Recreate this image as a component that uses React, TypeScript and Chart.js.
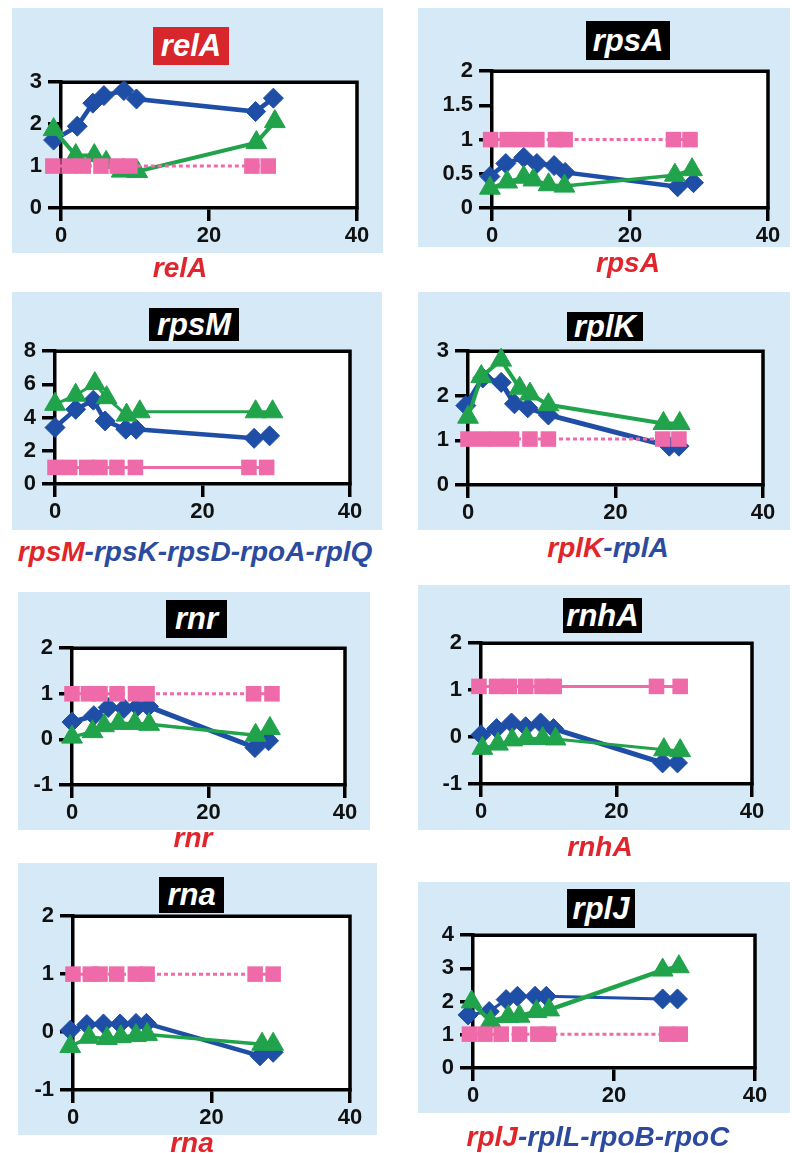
import React, { useEffect, useRef } from "react";
import { Chart, registerables } from "chart.js";

Chart.register(...registerables);

// ---------------- DATA (x = time, y = relative level) ----------------
// relA
const relA_blueX = [-1, 2.2, 4.3, 5.8, 8.5, 10.2, 26.3, 28.7];
const relA_blueY = [1.62, 1.95, 2.5, 2.68, 2.8, 2.6, 2.3, 2.62];
const relA_greenX = [-1, 2, 4.5, 6.1, 8.2, 10.3, 26.4, 28.9];
const relA_greenY = [1.87, 1.25, 1.25, 1.09, 0.88, 0.87, 1.56, 2.06];
const relA_pinkX = [-1.1, 1.1, 3.0, 5.4, 7.6, 9.3, 25.8, 28];
const relA_pinkY = [1, 1, 1, 1, 1, 1, 1, 1];
// rpsA
const rpsA_blueX = [-0.3, 2, 4.6, 6.5, 9, 10.6, 26.9, 29.2];
const rpsA_blueY = [0.46, 0.65, 0.74, 0.65, 0.62, 0.52, 0.31, 0.37];
const rpsA_greenX = [-0.3, 2.2, 4.6, 6, 8.2, 10.5, 26.5, 29];
const rpsA_greenY = [0.29, 0.38, 0.45, 0.41, 0.34, 0.32, 0.48, 0.56];
const rpsA_pinkX = [-0.2, 2.2, 4.3, 6.5, 9.2, 10.6, 26.3, 28.7];
const rpsA_pinkY = [1, 1, 1, 1, 1, 1, 1, 1];
// rpsM
const rpsM_blueX = [0, 2.8, 5.2, 6.8, 9.6, 11, 27, 29.1];
const rpsM_blueY = [3.4, 4.5, 5.05, 3.8, 3.3, 3.3, 2.75, 2.9];
const rpsM_greenX = [0, 2.8, 5.4, 7, 9.7, 11.5, 27.2, 29.5];
const rpsM_greenY = [4.8, 5.35, 6.05, 5.2, 4.15, 4.35, 4.35, 4.35];
const rpsM_pinkX = [0, 2, 4.3, 6.1, 8.4, 10.9, 26.3, 28.7];
const rpsM_pinkY = [1, 1, 1, 1, 1, 1, 1, 1];
// rplK
const rplK_blueX = [-0.3, 2, 4.5, 6.3, 8.1, 10.9, 27.3, 28.6];
const rplK_blueY = [1.78, 2.4, 2.3, 1.82, 1.73, 1.57, 0.87, 0.87];
const rplK_greenX = [0, 1.8, 4.5, 7, 8.4, 10.9, 26.5, 28.7];
const rplK_greenY = [1.52, 2.43, 2.8, 2.17, 2.04, 1.8, 1.38, 1.38];
const rplK_pinkX = [0, 2, 3.9, 5.9, 8.4, 10.9, 26.4, 28.6];
const rplK_pinkY = [1.03, 1.03, 1.03, 1.03, 1.03, 1.03, 1.03, 1.03];
// rnr
const rnr_blueX = [0, 3.2, 5.3, 7.6, 9.6, 11.2, 26.8, 28.8];
const rnr_blueY = [0.38, 0.52, 0.7, 0.68, 0.72, 0.72, -0.18, -0.03];
const rnr_greenX = [0, 3, 4.7, 6.8, 9.2, 11.3, 26.9, 29];
const rnr_greenY = [0.05, 0.17, 0.3, 0.35, 0.35, 0.33, 0.09, 0.24];
const rnr_pinkX = [0, 2.4, 4.1, 6.6, 9.3, 11, 26.6, 29.3];
const rnr_pinkY = [1, 1, 1, 1, 1, 1, 1, 1];
// rnhA
const rnhA_blueX = [0, 2.3, 4.5, 6.6, 8.8, 10.7, 26.8, 29];
const rnhA_blueY = [0.05, 0.18, 0.3, 0.22, 0.3, 0.18, -0.55, -0.55];
const rnhA_greenX = [0.2, 2.5, 4.6, 6.7, 9.1, 11, 27, 29.4];
const rnhA_greenY = [-0.24, -0.15, -0.06, -0.03, -0.03, -0.04, -0.27, -0.29];
const rnhA_pinkX = [-0.3, 2.3, 4.2, 6.6, 9, 10.8, 25.9, 29.4];
const rnhA_pinkY = [1.08, 1.08, 1.08, 1.08, 1.08, 1.08, 1.08, 1.08];
// rna
const rna_blueX = [-0.4, 2, 4.4, 6.8, 9.1, 10.6, 27, 28.9];
const rna_blueY = [0.03, 0.13, 0.14, 0.14, 0.15, 0.15, -0.41, -0.35];
const rna_greenX = [-0.4, 2.3, 4.9, 6.9, 9.1, 10.7, 27.3, 28.9];
const rna_greenY = [-0.25, -0.09, -0.11, -0.08, -0.06, -0.04, -0.21, -0.21];
const rna_pinkX = [0, 2.5, 3.9, 6.3, 9, 10.7, 26.3, 28.9];
const rna_pinkY = [1, 1, 1, 1, 1, 1, 1, 1];
// rplJ
const rplJ_blueX = [-0.7, 2.3, 4.7, 6.3, 8.8, 10.4, 26.9, 29];
const rplJ_blueY = [1.6, 1.7, 2.06, 2.16, 2.16, 2.16, 2.08, 2.08];
const rplJ_greenX = [-0.2, 2.5, 5, 6.6, 9, 10.8, 26.9, 29.2];
const rplJ_greenY = [1.99, 1.4, 1.55, 1.56, 1.7, 1.75, 2.95, 3.05];
const rplJ_pinkX = [-0.5, 1.7, 4, 6.6, 9.2, 10.7, 27.5, 29.4];
const rplJ_pinkY = [1.02, 1.02, 1.02, 1.02, 1.02, 1.02, 1.02, 1.02];

const xTicks = [0, 20, 40];

// ---------------- STYLE ----------------
const BLUE = "#1e4ea6";
const GREEN = "#20a34b";
const PINK = "#ef6aa9";
const BG = "#d5e9f7";
const RED = "#e0262c";
const NAVY = "#2c4b9f";
const FONT = '"Liberation Sans", Arial, Helvetica, sans-serif';

type Seg = [string, string];
type PanelDef = {
  title: string;
  titleBg: string;
  sub: Seg[];
  bg: [number, number, number, number];
  tb: [number, number, number, number];
  frame: [number, number, number, number]; // l,t,r,b
  y: [number, number, number];
  subPos: [number, number];
  pinkDash: boolean;
  blueW: number;
  greenW: number;
  blue: [number[], number[]];
  green: [number[], number[]];
  pink: [number[], number[]];
};

const panels: PanelDef[] = [
  {
    title: "relA", titleBg: "#d7262c", sub: [["relA", RED]],
    bg: [12, 8, 371, 245], tb: [153, 27, 76, 38], frame: [61, 79, 357, 208],
    y: [0, 3, 1], subPos: [180, 268], pinkDash: true, blueW: 4.5, greenW: 4,
    blue: [relA_blueX, relA_blueY], green: [relA_greenX, relA_greenY], pink: [relA_pinkX, relA_pinkY],
  },
  {
    title: "rpsA", titleBg: "#000", sub: [["rpsA", RED]],
    bg: [418, 8, 372, 239], tb: [586, 21, 84, 39], frame: [492, 68, 768, 208],
    y: [0, 2, 0.5], subPos: [628, 263], pinkDash: true, blueW: 4.5, greenW: 3.5,
    blue: [rpsA_blueX, rpsA_blueY], green: [rpsA_greenX, rpsA_greenY], pink: [rpsA_pinkX, rpsA_pinkY],
  },
  {
    title: "rpsM", titleBg: "#000", sub: [["rpsM", RED], ["-rpsK-rpsD-rpoA-rplQ", NAVY]],
    bg: [12, 292, 370, 238], tb: [149, 308, 90, 33], frame: [55, 348, 350, 484],
    y: [0, 8, 2], subPos: [195, 552], pinkDash: false, blueW: 4.5, greenW: 3,
    blue: [rpsM_blueX, rpsM_blueY], green: [rpsM_greenX, rpsM_greenY], pink: [rpsM_pinkX, rpsM_pinkY],
  },
  {
    title: "rplK", titleBg: "#000", sub: [["rplK", RED], ["-rplA", NAVY]],
    bg: [418, 292, 372, 238], tb: [567, 312, 76, 29], frame: [468, 348, 763, 485],
    y: [0, 3, 1], subPos: [608, 548], pinkDash: true, blueW: 5, greenW: 4,
    blue: [rplK_blueX, rplK_blueY], green: [rplK_greenX, rplK_greenY], pink: [rplK_pinkX, rplK_pinkY],
  },
  {
    title: "rnr", titleBg: "#000", sub: [["rnr", RED]],
    bg: [18, 592, 352, 238], tb: [166, 600, 61, 38], frame: [72, 645, 345, 785],
    y: [-1, 2, 1], subPos: [193, 838], pinkDash: true, blueW: 5, greenW: 3.5,
    blue: [rnr_blueX, rnr_blueY], green: [rnr_greenX, rnr_greenY], pink: [rnr_pinkX, rnr_pinkY],
  },
  {
    title: "rnhA", titleBg: "#000", sub: [["rnhA", RED]],
    bg: [418, 585, 372, 245], tb: [563, 598, 79, 35], frame: [481, 640, 752, 784],
    y: [-1, 2, 1], subPos: [600, 847], pinkDash: false, blueW: 5, greenW: 3,
    blue: [rnhA_blueX, rnhA_blueY], green: [rnhA_greenX, rnhA_greenY], pink: [rnhA_pinkX, rnhA_pinkY],
  },
  {
    title: "rna", titleBg: "#000", sub: [["rna", RED]],
    bg: [18, 863, 359, 272], tb: [159, 877, 65, 36], frame: [73, 913, 350, 1090],
    y: [-1, 2, 1], subPos: [192, 1143], pinkDash: true, blueW: 4.5, greenW: 3.5,
    blue: [rna_blueX, rna_blueY], green: [rna_greenX, rna_greenY], pink: [rna_pinkX, rna_pinkY],
  },
  {
    title: "rplJ", titleBg: "#000", sub: [["rplJ", RED], ["-rplL-rpoB-rpoC", NAVY]],
    bg: [418, 882, 372, 231], tb: [567, 889, 68, 39], frame: [473, 932, 755, 1068],
    y: [0, 4, 1], subPos: [598, 1137], pinkDash: true, blueW: 3, greenW: 4.5,
    blue: [rplJ_blueX, rplJ_blueY], green: [rplJ_greenX, rplJ_greenY], pink: [rplJ_pinkX, rplJ_pinkY],
  },
];

const L = 56, T = 16, R = 22, B = 46;
const LW = 3.5;

const framePlugin = {
  id: "frameBox",
  beforeDraw(chart: any) {
    const { ctx, chartArea } = chart;
    const { left, top, right, bottom } = chartArea;
    ctx.save();
    ctx.fillStyle = "#ffffff";
    ctx.fillRect(left, top, right - left, bottom - top);
    ctx.restore();
  },
  beforeDatasetsDraw(chart: any) {
    const { ctx, chartArea } = chart;
    const { left, top, right, bottom } = chartArea;
    ctx.save();
    ctx.strokeStyle = "#000";
    ctx.lineWidth = LW;
    ctx.lineCap = "square";
    ctx.beginPath();
    ctx.moveTo(left, top);
    ctx.lineTo(right, top);
    ctx.lineTo(right, bottom);
    ctx.stroke();
    ctx.restore();
  },
};

function toPts(xs: number[], ys: number[]) {
  return xs.map((x, i) => ({ x, y: ys[i] }));
}

function PanelChart({ p }: { p: PanelDef }) {
  const ref = useRef<HTMLCanvasElement>(null);
  const [fl, ft, fr, fb] = p.frame;
  const w = fr - fl + L + R;
  const h = fb - ft + T + B;
  useEffect(() => {
    if (!ref.current) return;
    const tickFont = { family: FONT, size: 22, weight: "bold" as const };
    const chart = new Chart(ref.current, {
      type: "scatter",
      data: {
        datasets: [
          {
            data: toPts(p.pink[0], p.pink[1]),
            showLine: true,
            borderColor: PINK,
            backgroundColor: PINK,
            borderWidth: 3,
            borderDash: p.pinkDash ? [4, 3] : [],
            pointStyle: "rect",
            pointRadius: 11,
            pointBorderWidth: 0,
            pointBackgroundColor: PINK,
            clip: false,
          } as any,
          {
            data: toPts(p.green[0], p.green[1]),
            showLine: true,
            borderColor: GREEN,
            backgroundColor: GREEN,
            borderWidth: p.greenW,
            pointStyle: "triangle",
            pointRadius: 12,
            pointBorderWidth: 1,
            pointBorderColor: GREEN,
            pointBackgroundColor: GREEN,
            clip: false,
          } as any,
          {
            data: toPts(p.blue[0], p.blue[1]),
            showLine: true,
            borderColor: BLUE,
            backgroundColor: BLUE,
            borderWidth: p.blueW,
            pointStyle: "rectRot",
            pointRadius: 10,
            pointBorderWidth: 1,
            pointBorderColor: BLUE,
            pointBackgroundColor: BLUE,
            clip: false,
          } as any,
        ],
      },
      options: {
        animation: false,
        responsive: false,
        devicePixelRatio: 1,
        layout: { padding: { left: 0, top: T, right: R, bottom: 0 } },
        plugins: { legend: { display: false }, tooltip: { enabled: false } },
        scales: {
          x: {
            type: "linear",
            min: xTicks[0],
            max: xTicks[xTicks.length - 1],
            afterBuildTicks: (s: any) => {
              s.ticks = xTicks.map((v) => ({ value: v }));
            },
            ticks: {
              font: tickFont,
              color: "#111",
              padding: 2,
              maxRotation: 0,
              autoSkip: false,
              callback: (v: any) => String(v),
            },
            grid: {
              drawOnChartArea: false,
              drawTicks: true,
              tickLength: 13,
              lineWidth: LW,
              tickWidth: LW,
              tickColor: "#000",
              color: "#000",
            },
            border: { display: true, color: "#000", width: LW },
            afterFit: (s: any) => {
              s.height = B;
            },
          },
          y: {
            type: "linear",
            min: p.y[0],
            max: p.y[1],
            ticks: {
              stepSize: p.y[2],
              font: tickFont,
              color: "#111",
              padding: 6,
              autoSkip: false,
              callback: (v: any) => String(v),
            },
            grid: {
              drawOnChartArea: false,
              drawTicks: true,
              tickLength: 13,
              lineWidth: LW,
              tickWidth: LW,
              tickColor: "#000",
              color: "#000",
            },
            border: { display: true, color: "#000", width: LW },
            afterFit: (s: any) => {
              s.width = L;
            },
          },
        },
      } as any,
      plugins: [framePlugin],
    });
    return () => chart.destroy();
  }, [p]);

  return (
    <canvas
      ref={ref}
      width={w}
      height={h}
      style={{ position: "absolute", left: fl - L, top: ft - T, width: w, height: h, zIndex: 1 }}
    />
  );
}

function Panel({ p }: { p: PanelDef }) {
  const [bx, by, bw, bh] = p.bg;
  const [tx, ty, tw, th] = p.tb;
  const [cx, cy] = p.subPos;
  return (
    <>
      <div style={{ position: "absolute", left: bx, top: by, width: bw, height: bh, background: BG, zIndex: 0 }} />
      <PanelChart p={p} />
      <div
        style={{
          position: "absolute",
          left: tx,
          top: ty,
          width: tw,
          height: th,
          background: p.titleBg,
          color: "#fff",
          fontFamily: FONT,
          fontWeight: "bold",
          fontStyle: "italic",
          fontSize: 31,
          lineHeight: th + "px",
          textAlign: "center",
          zIndex: 2,
          overflow: "hidden",
          whiteSpace: "nowrap",
        }}
      >
        {p.title}
      </div>
      <div
        style={{
          position: "absolute",
          left: cx - 300,
          top: cy - 16,
          width: 600,
          height: 32,
          lineHeight: "32px",
          textAlign: "center",
          fontFamily: FONT,
          fontWeight: "bold",
          fontStyle: "italic",
          fontSize: 28,
          whiteSpace: "nowrap",
          zIndex: 2,
        }}
      >
        {p.sub.map(([t, c], i) => (
          <span key={i} style={{ color: c }}>
            {t}
          </span>
        ))}
      </div>
    </>
  );
}

export default function App() {
  return (
    <div
      style={{
        position: "absolute",
        left: 0,
        top: 0,
        width: 792,
        height: 1153,
        overflow: "hidden",
        background: "#fff",
      }}
    >
      {panels.map((p) => (
        <Panel key={p.title} p={p} />
      ))}
    </div>
  );
}
